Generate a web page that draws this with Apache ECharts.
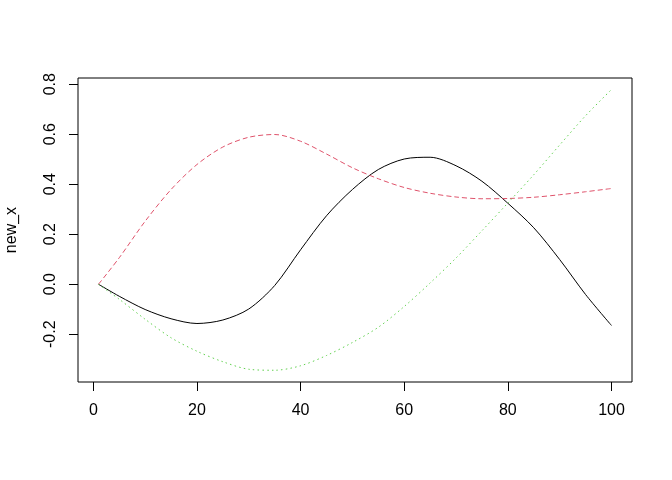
<!DOCTYPE html>
<html><head><meta charset="utf-8">
<script src="https://cdn.jsdelivr.net/npm/echarts@6/dist/echarts.min.js"></script>
<style>html,body{margin:0;padding:0;background:#fff}#c{width:672px;height:480px}</style>
</head><body><div id="c"></div>
<script>
const xs = [1,5,10,15,20,25,30,35,40,45,50,55,60,65,70,75,80,85,90,95,100];
const blackVals = [0,-0.048,-0.101,-0.138,-0.157,-0.143,-0.099,-0.005,0.138,0.274,0.379,0.459,0.501,0.508,0.474,0.412,0.324,0.226,0.099,-0.041,-0.165];
const redVals = [0,0.106,0.252,0.379,0.479,0.549,0.588,0.599,0.572,0.521,0.466,0.422,0.387,0.364,0.349,0.342,0.343,0.348,0.358,0.370,0.383];
const greenVals = [0,-0.060,-0.140,-0.214,-0.268,-0.310,-0.340,-0.344,-0.326,-0.285,-0.233,-0.172,-0.089,0.005,0.105,0.214,0.325,0.438,0.557,0.674,0.779];
const xTicks = [0,20,40,60,80,100];
const yTicks = [-0.2,0,0.2,0.4,0.6,0.8];
const yName = 'new_x';

const pairs = v => xs.map((x,i)=>[x,v[i]]);
const font = 'Liberation Sans, Arial, sans-serif';
const chart = echarts.init(document.getElementById('c'), null, {renderer:'canvas'});
const mkSeries = (vals, color, type) => ({
  type:'line', data: pairs(vals), showSymbol:false, smooth:0.3, animation:false,
  lineStyle:{color, width:1, type}
});
chart.setOption({
  animation:false,
  grid:{left:78, right:40, top:78, bottom:98, show:true, borderColor:'#000', borderWidth:1,
    containLabel:false, outerBoundsMode:'none'},
  xAxis:{type:'value', min:-2.96, max:103.96,
    axisLine:{show:false, onZero:false}, splitLine:{show:false},
    axisTick:{show:true, length:9, lineStyle:{color:'#000'}, customValues:xTicks},
    axisLabel:{customValues:xTicks, margin:21, color:'#000', fontSize:16, fontFamily:font}},
  yAxis:{type:'value', min:-0.391, max:0.825,
    name:yName, nameLocation:'middle', nameRotate:90, nameGap:58,
    nameTextStyle:{color:'#000', fontSize:16, fontFamily:font},
    axisLine:{show:false, onZero:false}, splitLine:{show:false},
    axisTick:{show:true, length:9, lineStyle:{color:'#000'}, customValues:yTicks},
    axisLabel:{customValues:yTicks, rotate:90, margin:19, color:'#000', fontSize:16, fontFamily:font,
      formatter:v=>v.toFixed(1)}},
  series:[
    mkSeries(blackVals,'#000000','solid'),
    mkSeries(redVals,'#DF536B',[5,3]),
    mkSeries(greenVals,'#61D04F',[1.5,3.2])
  ]
});
</script></body></html>
